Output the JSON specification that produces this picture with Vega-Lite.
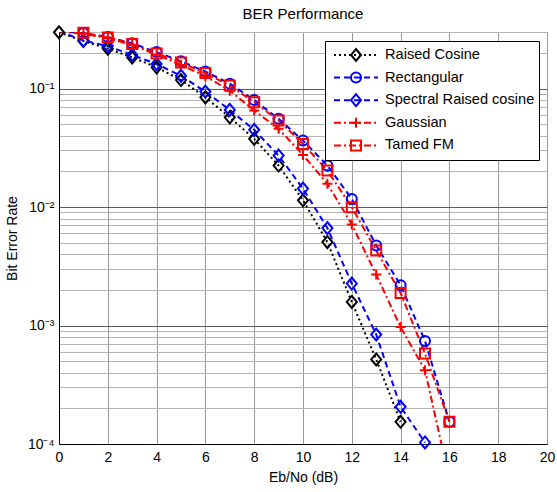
{
  "$schema": "https://vega.github.io/schema/vega-lite/v6.json",
  "autosize": "none",
  "padding": {"left": 59, "top": 32, "right": 10, "bottom": 48},
  "width": 488,
  "height": 412,
  "background": "white",
  "title": {"text": "BER Performance", "fontSize": 15, "fontWeight": "normal", "font": "Liberation Sans", "color": "black", "offset": 10, "dy": 10, "anchor": "middle", "frame": "group"},
  "config": {
    "view": {"stroke": "black", "strokeWidth": 1},
    "axis": {"labelFont": "Liberation Sans", "titleFont": "Liberation Sans", "labelFontSize": 14, "titleFontSize": 14, "titleFontWeight": "normal", "labelColor": "black", "titleColor": "black", "domainColor": "black", "ticks": false, "labelOverlap": false, "labelFlush": false, "labelBound": false},
    "legend": {"labelFont": "Liberation Sans", "labelFontSize": 14.6, "labelColor": "black"}
  },
  "data": {"values": [
    {"x": 0, "ber": 0.298, "series": "Raised Cosine"},
    {"x": 1, "ber": 0.252, "series": "Raised Cosine"},
    {"x": 2, "ber": 0.217, "series": "Raised Cosine"},
    {"x": 3, "ber": 0.183, "series": "Raised Cosine"},
    {"x": 4, "ber": 0.151, "series": "Raised Cosine"},
    {"x": 5, "ber": 0.118, "series": "Raised Cosine"},
    {"x": 6, "ber": 0.0843, "series": "Raised Cosine"},
    {"x": 7, "ber": 0.0571, "series": "Raised Cosine"},
    {"x": 8, "ber": 0.0376, "series": "Raised Cosine"},
    {"x": 9, "ber": 0.0224, "series": "Raised Cosine"},
    {"x": 10, "ber": 0.0114, "series": "Raised Cosine"},
    {"x": 11, "ber": 0.00506, "series": "Raised Cosine"},
    {"x": 12, "ber": 0.00158, "series": "Raised Cosine"},
    {"x": 13, "ber": 0.000517, "series": "Raised Cosine"},
    {"x": 14, "ber": 0.000154, "series": "Raised Cosine"},
    {"x": 0, "ber": 0.305, "series": "Rectangular"},
    {"x": 1, "ber": 0.294, "series": "Rectangular"},
    {"x": 2, "ber": 0.272, "series": "Rectangular"},
    {"x": 3, "ber": 0.241, "series": "Rectangular"},
    {"x": 4, "ber": 0.203, "series": "Rectangular"},
    {"x": 5, "ber": 0.17, "series": "Rectangular"},
    {"x": 6, "ber": 0.139, "series": "Rectangular"},
    {"x": 7, "ber": 0.11, "series": "Rectangular"},
    {"x": 8, "ber": 0.08, "series": "Rectangular"},
    {"x": 9, "ber": 0.0555, "series": "Rectangular"},
    {"x": 10, "ber": 0.0364, "series": "Rectangular"},
    {"x": 11, "ber": 0.0224, "series": "Rectangular"},
    {"x": 12, "ber": 0.0117, "series": "Rectangular"},
    {"x": 13, "ber": 0.00474, "series": "Rectangular"},
    {"x": 14, "ber": 0.00219, "series": "Rectangular"},
    {"x": 15, "ber": 0.00074, "series": "Rectangular"},
    {"x": 16, "ber": 0.000154, "series": "Rectangular"},
    {"x": 0, "ber": 0.305, "series": "Spectral Raised cosine"},
    {"x": 1, "ber": 0.254, "series": "Spectral Raised cosine"},
    {"x": 2, "ber": 0.228, "series": "Spectral Raised cosine"},
    {"x": 3, "ber": 0.192, "series": "Spectral Raised cosine"},
    {"x": 4, "ber": 0.161, "series": "Spectral Raised cosine"},
    {"x": 5, "ber": 0.128, "series": "Spectral Raised cosine"},
    {"x": 6, "ber": 0.0942, "series": "Spectral Raised cosine"},
    {"x": 7, "ber": 0.066, "series": "Spectral Raised cosine"},
    {"x": 8, "ber": 0.0448, "series": "Spectral Raised cosine"},
    {"x": 9, "ber": 0.0272, "series": "Spectral Raised cosine"},
    {"x": 10, "ber": 0.0143, "series": "Spectral Raised cosine"},
    {"x": 11, "ber": 0.00664, "series": "Spectral Raised cosine"},
    {"x": 12, "ber": 0.00226, "series": "Spectral Raised cosine"},
    {"x": 13, "ber": 0.000839, "series": "Spectral Raised cosine"},
    {"x": 14, "ber": 0.000206, "series": "Spectral Raised cosine"},
    {"x": 15, "ber": 0.000103, "series": "Spectral Raised cosine"},
    {"x": 0, "ber": 0.305, "series": "Gaussian"},
    {"x": 1, "ber": 0.29, "series": "Gaussian"},
    {"x": 2, "ber": 0.266, "series": "Gaussian"},
    {"x": 3, "ber": 0.233, "series": "Gaussian"},
    {"x": 4, "ber": 0.193, "series": "Gaussian"},
    {"x": 5, "ber": 0.158, "series": "Gaussian"},
    {"x": 6, "ber": 0.127, "series": "Gaussian"},
    {"x": 7, "ber": 0.096, "series": "Gaussian"},
    {"x": 8, "ber": 0.0652, "series": "Gaussian"},
    {"x": 9, "ber": 0.0457, "series": "Gaussian"},
    {"x": 10, "ber": 0.0275, "series": "Gaussian"},
    {"x": 11, "ber": 0.0157, "series": "Gaussian"},
    {"x": 12, "ber": 0.00713, "series": "Gaussian"},
    {"x": 13, "ber": 0.00269, "series": "Gaussian"},
    {"x": 14, "ber": 0.00097, "series": "Gaussian"},
    {"x": 15, "ber": 0.00042, "series": "Gaussian"},
    {"x": 16, "ber": 0.00005, "series": "Gaussian"},
    {"x": 0, "ber": 0.305, "series": "Tamed FM"},
    {"x": 1, "ber": 0.295, "series": "Tamed FM"},
    {"x": 2, "ber": 0.27, "series": "Tamed FM"},
    {"x": 3, "ber": 0.238, "series": "Tamed FM"},
    {"x": 4, "ber": 0.198, "series": "Tamed FM"},
    {"x": 5, "ber": 0.166, "series": "Tamed FM"},
    {"x": 6, "ber": 0.135, "series": "Tamed FM"},
    {"x": 7, "ber": 0.106, "series": "Tamed FM"},
    {"x": 8, "ber": 0.0766, "series": "Tamed FM"},
    {"x": 9, "ber": 0.0537, "series": "Tamed FM"},
    {"x": 10, "ber": 0.0341, "series": "Tamed FM"},
    {"x": 11, "ber": 0.0203, "series": "Tamed FM"},
    {"x": 12, "ber": 0.00998, "series": "Tamed FM"},
    {"x": 13, "ber": 0.0043, "series": "Tamed FM"},
    {"x": 14, "ber": 0.00188, "series": "Tamed FM"},
    {"x": 15, "ber": 0.00058, "series": "Tamed FM"},
    {"x": 16, "ber": 0.000154, "series": "Tamed FM"}
  ]},
  "encoding": {
    "x": {"field": "x", "type": "quantitative", "title": "Eb/No (dB)",
      "scale": {"domain": [0, 20], "nice": false},
      "axis": {"values": [0, 2, 4, 6, 8, 10, 12, 14, 16, 18, 20], "grid": true, "gridColor": "#999999", "labelPadding": 6, "titlePadding": 6}},
    "y": {"field": "ber", "type": "quantitative", "title": "Bit Error Rate",
      "scale": {"type": "log", "domain": [0.0001, 0.3], "nice": false},
      "axis": {"values": [0.0001, 0.0002, 0.0003, 0.0004, 0.0005, 0.0006, 0.0007, 0.0008, 0.0009, 0.001, 0.002, 0.003, 0.004, 0.005, 0.006, 0.007, 0.008, 0.009, 0.01, 0.02, 0.03, 0.04, 0.05, 0.06, 0.07, 0.08, 0.09, 0.1, 0.2, 0.3],
        "grid": true,
        "gridColor": {"condition": {"test": "datum.value == 0.1 || datum.value == 0.01 || datum.value == 0.001 || datum.value == 0.0001", "value": "#5a5a5a"}, "value": "#b4b4b4"},
        "labelExpr": "datum.value == 0.1 ? '10⁻¹' : datum.value == 0.01 ? '10⁻²' : datum.value == 0.001 ? '10⁻³' : datum.value == 0.0001 ? '10⁻⁴' : ''",
        "labelPadding": 5, "titlePadding": 8}}
  },
  "layer": [
    {
      "mark": {"type": "line", "strokeWidth": 2, "clip": true},
      "encoding": {
        "color": {"field": "series", "type": "nominal",
          "scale": {"domain": ["Raised Cosine", "Rectangular", "Spectral Raised cosine", "Gaussian", "Tamed FM"], "range": ["#000000", "#0000ff", "#0000ff", "#ff0000", "#ff0000"]},
          "legend": {"title": null, "orient": "none", "legendX": 266, "legendY": 9, "padding": 4, "rowPadding": 2.6, "clipHeight": 20, "symbolType": "M-2.2,0H2.2", "symbolSize": 400, "symbolStrokeWidth": 2, "symbolOffset": 16, "labelOffset": 18, "labelLimit": 300, "strokeColor": "black", "fillColor": "white", "cornerRadius": 0, "zindex": 1}},
        "strokeDash": {"field": "series", "type": "nominal",
          "scale": {"domain": ["Raised Cosine", "Rectangular", "Spectral Raised cosine", "Gaussian", "Tamed FM"], "range": [[2, 3], [6, 4], [6, 4], [7, 3, 2, 3], [7, 3, 2, 3]]},
          "legend": {"title": null, "orient": "none", "legendX": 266, "legendY": 9, "padding": 4, "rowPadding": 2.6, "clipHeight": 20, "symbolType": "M-2.2,0H2.2", "symbolSize": 400, "symbolStrokeWidth": 2, "symbolOffset": 16, "labelOffset": 18, "labelLimit": 300, "strokeColor": "black", "fillColor": "white", "cornerRadius": 0, "zindex": 1}}
      }
    },
    {
      "transform": [{"filter": "datum.ber <= 0.3 && datum.ber >= 0.0001"}],
      "mark": {"type": "point", "filled": false, "strokeWidth": 2, "size": 100, "opacity": 1, "clip": false},
      "encoding": {
        "stroke": {"field": "series", "type": "nominal", "sort": null,
          "scale": {"range": ["#000000", "#0000ff", "#0000ff", "#ff0000", "#ff0000"]},
          "legend": {"title": null, "orient": "none", "legendX": 287, "legendY": 9, "padding": 4, "rowPadding": 2.6, "clipHeight": 20, "symbolSize": 100, "symbolStrokeWidth": 2, "symbolOffset": 0, "symbolFillColor": "transparent", "labelExpr": "''", "labelFontSize": 1, "labelOpacity": 0, "zindex": 2}},
        "shape": {"field": "series", "type": "nominal", "sort": null,
          "scale": {"range": ["M0,-1.2L1,0L0,1.2L-1,0Z", "circle", "M0,-1.2L1,0L0,1.2L-1,0Z", "M-1,0H1M0,-1V1", "square"]},
          "legend": {"title": null, "orient": "none", "legendX": 287, "legendY": 9, "padding": 4, "rowPadding": 2.6, "clipHeight": 20, "symbolSize": 100, "symbolStrokeWidth": 2, "symbolOffset": 0, "symbolFillColor": "transparent", "labelExpr": "''", "labelFontSize": 1, "labelOpacity": 0, "zindex": 2}}
      }
    }
  ]
}
